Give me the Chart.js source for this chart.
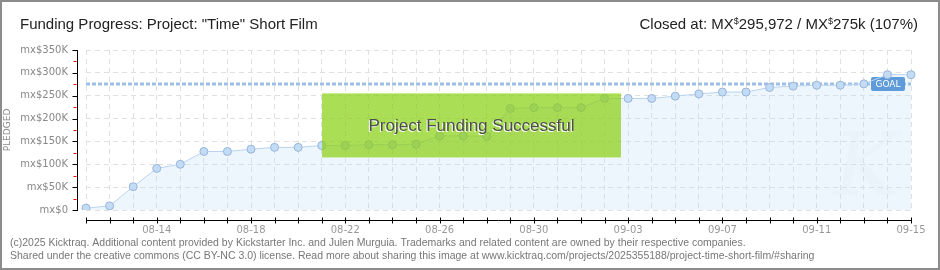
<!DOCTYPE html>
<html>
<head>
<meta charset="utf-8">
<title>Funding Progress: Project: "Time" Short Film</title>
<script src="https://cdn.jsdelivr.net/npm/chart.js@4.4.0/dist/chart.umd.min.js"></script>
<style>
  html, body { margin: 0; padding: 0; background: #fff; }
  #wrap { width: 940px; height: 270px; }
</style>
</head>
<body>
<div id="wrap"><canvas id="fundingChart" width="940" height="270"></canvas></div>
<script>
// daily pledge totals (MX$)
const days = [
    '08-11', '08-12', '08-13', '08-14', '08-15', '08-16', '08-17', '08-18', '08-19', '08-20',
    '08-21', '08-22', '08-23', '08-24', '08-25', '08-26', '08-27', '08-28', '08-29', '08-30',
    '08-31', '09-01', '09-02', '09-03', '09-04', '09-05', '09-06', '09-07', '09-08', '09-09',
    '09-10', '09-11', '09-12', '09-13', '09-14', '09-15'
];
const pledged = [
    4000, 9000, 51000, 91000, 100000, 128000, 128000, 133000, 137000, 137000,
    141000, 141000, 143000, 143000, 144000, 162000, 162000, 161000, 222000, 224000,
    224000, 224000, 244000, 244000, 244000, 249000, 254000, 258000, 258000, 268000,
    271000, 273000, 273000, 276000, 296000, 295972
];
const labelDays = ['08-14', '08-18', '08-22', '08-26', '08-30', '09-03', '09-07', '09-11', '09-15'];
const goal = 275000;
const yMax = 350000;
const yStep = 50000;

// "successful" banner span, in day index and pledge units
const bannerX = [10, 22.7];
const bannerY = [114000, 257000];

const titleText = 'Funding Progress: Project: "Time" Short Film';
const footerLines = [
    '(c)2025 Kicktraq. Additional content provided by Kickstarter Inc. and Julen Murguia. Trademarks and related content are owned by their respective companies.',
    'Shared under the creative commons (CC BY-NC 3.0) license. Read more about sharing this image at www.kicktraq.com/projects/2025355188/project-time-short-film/#sharing'
];

const fmtY = v => v === 0 ? 'mx$0' : 'mx$' + (v / 1000) + 'K';

// header, footer, axes, goal line and banner
const decor = {
    id: 'decor',
    beforeDatasetsDraw(chart) {
        const { ctx, chartArea: a, scales: { y } } = chart;
        const gy = Math.round(y.getPixelForValue(goal));
        ctx.save();
        ctx.strokeStyle = '#9dbfe5';
        ctx.lineWidth = 3;
        ctx.setLineDash([4, 2]);
        ctx.beginPath();
        ctx.moveTo(a.left, gy);
        ctx.lineTo(a.right, gy);
        ctx.stroke();
        ctx.setLineDash([]);

        // goal tag
        const w = 34, h = 14, rx = a.right - 6 - w, ry = gy - h / 2;
        ctx.fillStyle = '#5e9bd8';
        ctx.beginPath();
        ctx.roundRect(rx, ry, w, h, 2);
        ctx.fill();
        ctx.fillStyle = '#fff';
        ctx.font = '9px "DejaVu Sans"';
        ctx.textAlign = 'center';
        ctx.textBaseline = 'middle';
        ctx.fillText('GOAL', rx + w / 2, gy + 0.5);

        // faint watermark
        ctx.fillStyle = 'rgba(215,225,238,0.15)';
        ctx.font = 'italic 88px "DejaVu Serif"';
        ctx.fillText('K', a.right - 45, a.bottom - 38);
        ctx.restore();
    },
    afterDatasetsDraw(chart) {
        const { ctx, scales: { x, y } } = chart;
        const l = Math.round(x.getPixelForValue(bannerX[0]));
        const r = Math.round(x.getPixelForValue(bannerX[1]));
        const t = Math.round(y.getPixelForValue(bannerY[1]));
        const b = Math.round(y.getPixelForValue(bannerY[0]));
        ctx.save();
        // multiply pass keeps the points beneath faintly visible, then a soft wash on top
        ctx.globalCompositeOperation = 'multiply';
        ctx.fillStyle = '#a9dd52';
        ctx.fillRect(l, t, r - l, b - t);
        ctx.globalCompositeOperation = 'source-over';
        ctx.fillStyle = 'rgba(169,221,82,0.62)';
        ctx.fillRect(l, t, r - l, b - t);
        // light diagonal hatch
        ctx.beginPath();
        ctx.rect(l, t, r - l, b - t);
        ctx.clip();
        ctx.strokeStyle = 'rgba(255,255,255,0.07)';
        ctx.lineWidth = 1;
        for (let i = l - (b - t); i < r; i += 4) {
            ctx.beginPath();
            ctx.moveTo(i, b);
            ctx.lineTo(i + (b - t), t);
            ctx.stroke();
        }
        ctx.restore();
        ctx.save();
        ctx.fillStyle = '#c9ef8c';
        ctx.fillRect(l, t, r - l, 1);
        ctx.fillStyle = '#d2ecb0';
        ctx.fillRect(l, b - 1, r - l, 1);
        ctx.font = '17px "Liberation Sans"';
        ctx.textAlign = 'center';
        ctx.textBaseline = 'middle';
        ctx.fillStyle = '#fff';
        ctx.fillText('Project Funding Successful', (l + r) / 2 - 1, (t + b) / 2 + 2);
        ctx.fillStyle = '#4d4d4d';
        ctx.fillText('Project Funding Successful', (l + r) / 2, (t + b) / 2 + 1);
        ctx.restore();
    },
    afterDraw(chart) {
        const { ctx, chartArea: a, scales: { x, y } } = chart;
        ctx.save();

        // outer frame
        ctx.strokeStyle = '#8c8c8c';
        ctx.lineWidth = 2;
        ctx.strokeRect(1, 1, chart.width - 2, chart.height - 2);

        // title
        ctx.fillStyle = '#222';
        ctx.textBaseline = 'alphabetic';
        ctx.textAlign = 'left';
        ctx.font = '15px "Liberation Sans"';
        ctx.fillText(titleText, 20, 29);

        // closing amount, with raised currency sign
        const big = '15px "Liberation Sans"', small = '9px "Liberation Sans"';
        const parts = [
            ['Closed at: MX', big, 0], ['$', small, -5], ['295,972 / MX', big, 0],
            ['$', small, -5], ['275k (107%)', big, 0]
        ];
        let total = 0;
        parts.forEach(p => { ctx.font = p[1]; total += ctx.measureText(p[0]).width; });
        let cx = 918 - total;
        parts.forEach(p => {
            ctx.font = p[1];
            ctx.fillText(p[0], cx, 29 + p[2]);
            cx += ctx.measureText(p[0]).width;
        });

        // footer
        ctx.fillStyle = '#777';
        ctx.font = '10.5px "Liberation Sans"';
        ctx.textBaseline = 'middle';
        ctx.fillText(footerLines[0], 10, 243);
        ctx.fillText(footerLines[1], 10, 256);

        // y axis line, major and minor ticks
        const ax = Math.round(a.left - 9) + 0.5;
        ctx.lineWidth = 1;
        ctx.strokeStyle = '#000';
        ctx.beginPath();
        ctx.moveTo(ax, a.top);
        ctx.lineTo(ax, a.bottom + 1);
        for (let v = 0; v <= yMax; v += yStep) {
            const py = Math.round(y.getPixelForValue(v)) + 0.5;
            ctx.moveTo(ax - 5, py);
            ctx.lineTo(ax, py);
        }
        ctx.stroke();
        ctx.strokeStyle = '#e00';
        ctx.beginPath();
        for (let v = yStep / 2; v < yMax; v += yStep) {
            const py = Math.round(y.getPixelForValue(v)) + 0.5;
            ctx.moveTo(ax - 4, py);
            ctx.lineTo(ax - 1, py);
        }
        ctx.stroke();

        // x axis line and day ticks
        const ay = Math.round(a.bottom + 10) + 0.5;
        ctx.strokeStyle = '#000';
        ctx.beginPath();
        ctx.moveTo(a.left, ay);
        ctx.lineTo(a.right, ay);
        days.forEach((d, i) => {
            const px = Math.round(x.getPixelForValue(i)) + 0.5;
            ctx.moveTo(px, ay - 3);
            ctx.lineTo(px, ay + 3);
        });
        ctx.stroke();
        ctx.restore();
    }
};

new Chart(document.getElementById('fundingChart'), {
    type: 'line',
    data: {
        labels: days,
        datasets: [{
            data: pledged,
            borderColor: '#b9d4f1',
            borderWidth: 1,
            backgroundColor: 'rgba(196,222,250,0.3)',
            fill: 'origin',
            tension: 0,
            pointRadius: 4,
            pointBackgroundColor: '#c3dcf6',
            pointBorderColor: '#98b4d8',
            pointBorderWidth: 1
        }]
    },
    options: {
        responsive: false,
        animation: false,
        devicePixelRatio: 1,
        layout: { padding: { top: 50, right: 29, left: 0, bottom: 0 } },
        plugins: {
            legend: { display: false },
            tooltip: { enabled: false },
            filler: { drawTime: 'beforeDatasetsDraw' }
        },
        scales: {
            x: {
                afterFit: s => { s.height = 60; },
                border: { display: false, dash: [5, 4] },
                grid: { color: '#e0e0e0', drawTicks: false },
                ticks: {
                    autoSkip: false, maxRotation: 0, padding: 14,
                    color: '#999', font: { family: 'DejaVu Sans', size: 10 },
                    callback: function (v, i) { return labelDays.includes(days[i]) ? days[i] : ''; }
                }
            },
            y: {
                min: 0, max: yMax,
                afterFit: s => { s.width = 86; },
                border: { display: false, dash: [5, 4] },
                grid: { color: '#e0e0e0', drawTicks: false },
                title: {
                    display: true, text: 'PLEDGED', color: '#888',
                    font: { family: 'DejaVu Sans', size: 9 }, padding: { top: 2, bottom: 0 }
                },
                ticks: {
                    stepSize: yStep, padding: 18,
                    color: '#888', font: { family: 'DejaVu Sans', size: 10 },
                    callback: v => fmtY(v)
                }
            }
        }
    },
    plugins: [decor]
});
</script>
</body>
</html>
